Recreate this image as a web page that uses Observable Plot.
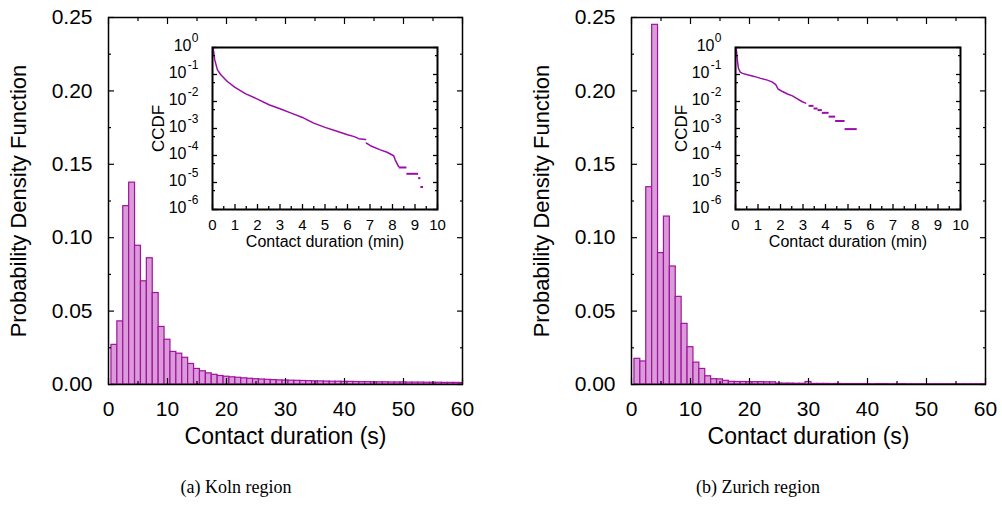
<!DOCTYPE html>
<html><head><meta charset="utf-8">
<script src="https://cdn.jsdelivr.net/npm/d3@7"></script>
<script src="https://cdn.jsdelivr.net/npm/@observablehq/plot@0.6"></script>
<style>
body{margin:0;background:#fff;}
#wrap{position:relative;width:1002px;height:527px;overflow:hidden;background:#fff;}
#wrap > div.p{position:absolute;}
#wrap svg{max-width:none !important;}
.cap{position:absolute;top:477px;font-family:"Liberation Serif","Times New Roman",serif;font-size:18px;line-height:20px;text-align:center;width:300px;color:#000;}
</style></head><body>
<div id="wrap">
 <div class="p" id="mainA" style="left:0;top:0;width:500px"></div>
 <div class="p" id="mainB" style="left:523px;top:0;width:479px"></div>
 <div class="p" id="insetA" style="left:142px;top:30px;width:315px"></div>
 <div class="p" id="insetB" style="left:665px;top:30px;width:315px"></div>
 <div class="cap" style="left:86px">(a) Koln region</div>
 <div class="cap" style="left:608px">(b) Zurich region</div>
</div>
<script>
// ---- data ----
const binCenters = [1,2,3,4,5,6,7,8,9,10,11,12,13,14,15,16,17,18,19,20,21,22,23,24,25,26,27,28,29,30,
  31,32,33,34,35,36,37,38,39,40,41,42,43,44,45,46,47,48,49,50,51,52,53,54,55,56,57,58,59,60];
const kolnPdf = [0.027,0.043,0.1215,0.1375,0.0945,0.0703,0.086,0.0623,0.0392,0.0305,
  0.0222,0.021,0.0182,0.014,0.0106,0.0090,0.0076,0.0066,0.0058,0.0053,
  0.0049,0.0046,0.0042,0.0039,0.0036,0.0034,0.0032,0.0030,0.0028,0.0027,
  0.0026,0.0025,0.0024,0.0023,0.0022,0.0021,0.0020,0.0019,0.0019,0.0018,
  0.0018,0.0017,0.0016,0.0016,0.0015,0.0015,0.0015,0.0014,0.0014,0.0014,
  0.0013,0.0013,0.0013,0.0012,0.0012,0.0012,0.0011,0.0011,0.0011,0.0010];
const zurichPdf = [0.0175,0.0157,0.1344,0.245,0.0895,0.1144,0.0804,0.0597,0.0413,0.0254,
  0.0149,0.0106,0.0056,0.0036,0.0035,0.0025,0.0018,0.0017,0.0017,0.0016,
  0.0016,0.0016,0.0015,0.0015,0.0006,0.0006,0.0006,0.0005,0.0005,0.0017,
  0.0004,0.0004,0.0004,0.0003,0.0004,0.0003,0.0003,0.0003,0.0003,0.0003,
  0.0002,0.0003,0.0003,0.0002,0.0002,0.0003,0.0002,0.0002,0.0002,0.0002,
  0.0002,0.0002,0.0002,0.0002,0.0002,0.0002,0.0002,0.0002,0.0002,0.0002];

// CCDF insets (minutes, CCDF); null marks a gap in the curve
const kolnCcdfMin = [0.01,0.04,0.10,0.22,0.37,0.66,1.00,1.48,2.0,2.51,3.0,3.5,4.0,4.21,4.5,5.0,5.5,6.0,6.3,6.5,6.8,
  6.82,6.84,7.02,7.46,7.76,8.05,8.12,8.27];
const kolnCcdfVal = [0.955,0.81,0.347,0.148,0.0977,0.055,0.0331,0.0191,0.0123,0.00759,0.00537,0.00372,0.00257,0.00209,0.00158,0.0011,0.00081,0.00059,0.0005,0.00042,0.00039,
  null,0.00029,0.00023,0.000162,0.000132,0.000098,0.000069,0.000039];
const kolnStepStart = [8.30,8.64,9.16,9.26];
const kolnStepEnd   = [8.64,9.16,9.26,9.38];
const kolnStepVal   = [3.6e-5,2.1e-5,1.45e-5,6.8e-6];

const zurCcdfMin = [0.01,0.04,0.09,0.13,0.21,0.31,0.53,0.83,1.12,1.42,1.64,1.79,1.89,2.09,2.31,2.53,2.75,2.97,3.12];
const zurCcdfVal = [0.955,0.81,0.30,0.17,0.123,0.11,0.098,0.085,0.072,0.062,0.052,0.042,0.029,0.0234,0.019,0.0162,0.0126,0.0098,0.0087];
const zurStepStart = [3.27,3.49,3.67,3.86,4.16,4.45,4.87];
const zurStepEnd   = [3.49,3.67,3.86,4.16,4.45,4.87,5.41];
const zurStepVal   = [0.0069,0.0055,0.0048,0.0038,0.00275,0.0019,0.00095];

// tick labels
const xMajor = [0,10,20,30,40,50,60];
const xMinor = [5,15,25,35,45,55];
const yMajor = [0,0.05,0.10,0.15,0.20,0.25];
const yMinor = [0.025,0.075,0.125,0.175,0.225];
const insetXMajor = [0,1,2,3,4,5,6,7,8,9,10];
const insetXMinor = [0.5,1.5,2.5,3.5,4.5,5.5,6.5,7.5,8.5,9.5];
const insetYMajor = [1e-6,1e-5,1e-4,1e-3,1e-2,1e-1,1];
const insetYMinor = [5e-6,5e-5,5e-4,5e-3,5e-2,5e-1];

const FILL = "#d99cd9", STROKE = "#a2129f", CURVE = "#9b0ca8";
const FONT = "'Liberation Sans', Arial, Helvetica, sans-serif";

function mainPlot(values, width, marginRight) {
  const data = binCenters.map((c, i) => ({c, v: values[i]}));
  const tk = (ticks, anchor, size) => Plot[anchor === "left" || anchor === "right" ? "axisY" : "axisX"](ticks, {anchor, tickSize: size, fill: "none", label: null, strokeWidth: 1.2});
  return Plot.plot({
    width, height: 470,
    marginLeft: 108, marginRight, marginTop: 17, marginBottom: 86,
    style: {fontFamily: FONT, fontSize: "21px", color: "black", background: "transparent", overflow: "visible"},
    x: {domain: [0, 60]},
    y: {domain: [0, 0.25]},
    marks: [
      Plot.rectY(data, {x1: d => d.c - 0.5, x2: d => d.c + 0.5, y: "v", fill: FILL, stroke: STROKE, strokeWidth: 1.2, clip: true}),
      Plot.frame({stroke: "black", strokeWidth: 1.5}),
      Plot.axisX(xMajor, {anchor: "bottom", tickSize: 0, tickPadding: 17, label: null}),
      Plot.axisY(yMajor, {anchor: "left", tickSize: 0, tickPadding: 16, tickFormat: d3.format(".2f"), label: null}),
      tk(xMajor, "bottom", -6), tk(xMinor, "bottom", -3),
      tk(xMajor, "top", -6), tk(xMinor, "top", -3),
      tk(yMajor, "left", -6), tk(yMinor, "left", -3),
      tk(yMajor, "right", -6), tk(yMinor, "right", -3),
      Plot.text(["Contact duration (s)"], {text: d => d, frameAnchor: "bottom", textAnchor: "middle", dy: 59, fontSize: 23}),
      Plot.text(["Probability Density Function"], {text: d => d, frameAnchor: "left", textAnchor: "middle", rotate: -90, dx: -90, fontSize: 22})
    ]
  });
}

const expText = d => String(Math.round(Math.log10(d)));

function insetPlot(mins, vals, s1, s2, sv) {
  const line = mins.map((t, i) => ({t, p: vals[i]}));
  const steps = s1.map((t1, i) => ({t1, t2: s2[i], p: sv[i]}));
  const tk = (ticks, anchor, size) => Plot[anchor === "left" || anchor === "right" ? "axisY" : "axisX"](ticks, {anchor, tickSize: size, fill: "none", label: null, strokeWidth: 1.3});
  const zeroExp = insetYMajor.filter(d => d === 1);
  const negExp = insetYMajor.filter(d => d !== 1);
  return Plot.plot({
    width: 315, height: 239,
    marginLeft: 70, marginRight: 20, marginTop: 17, marginBottom: 60,
    style: {fontFamily: FONT, fontSize: "16px", color: "black", background: "transparent", overflow: "visible"},
    x: {domain: [0, 10]},
    y: {type: "log", domain: [1e-6, 1]},
    marks: [
      Plot.frame({fill: "white", stroke: "none"}),
      Plot.line(line, {x: "t", y: "p", stroke: CURVE, strokeWidth: 1.5}),
      Plot.ruleY(steps, {y: "p", x1: "t1", x2: "t2", stroke: CURVE, strokeWidth: 2}),
      Plot.frame({stroke: "black", strokeWidth: 2}),
      Plot.axisX(insetXMajor, {anchor: "bottom", tickSize: 0, tickPadding: 10, label: null, fontSize: 15}),
      // y tick labels: base "10" and a raised exponent
      Plot.text(zeroExp, {y: d => d, text: () => "10", frameAnchor: "left", textAnchor: "end", dx: -21, dy: -2, fontSize: 16}),
      Plot.text(negExp, {y: d => d, text: () => "10", frameAnchor: "left", textAnchor: "end", dx: -26, dy: -2, fontSize: 16}),
      Plot.text(insetYMajor, {y: d => d, text: expText, frameAnchor: "left", textAnchor: "end", dx: -14, dy: -9, fontSize: 12}),
      tk(insetXMajor, "bottom", -5), tk(insetXMinor, "bottom", -3),
      tk(insetYMajor, "left", -5), tk(insetYMinor, "left", -3),
      tk(insetYMajor, "right", -5), tk(insetYMinor, "right", -3),
      Plot.text(["Contact duration (min)"], {text: d => d, frameAnchor: "bottom", textAnchor: "middle", dy: 37, fontSize: 16}),
      Plot.text(["CCDF"], {text: d => d, frameAnchor: "left", textAnchor: "middle", rotate: -90, dx: -54, fontSize: 17})
    ]
  });
}

document.getElementById("mainA").appendChild(mainPlot(kolnPdf, 500, 38));
document.getElementById("mainB").appendChild(mainPlot(zurichPdf, 479, 17));
document.getElementById("insetA").appendChild(insetPlot(kolnCcdfMin, kolnCcdfVal, kolnStepStart, kolnStepEnd, kolnStepVal));
document.getElementById("insetB").appendChild(insetPlot(zurCcdfMin, zurCcdfVal, zurStepStart, zurStepEnd, zurStepVal));
</script>
</body></html>
